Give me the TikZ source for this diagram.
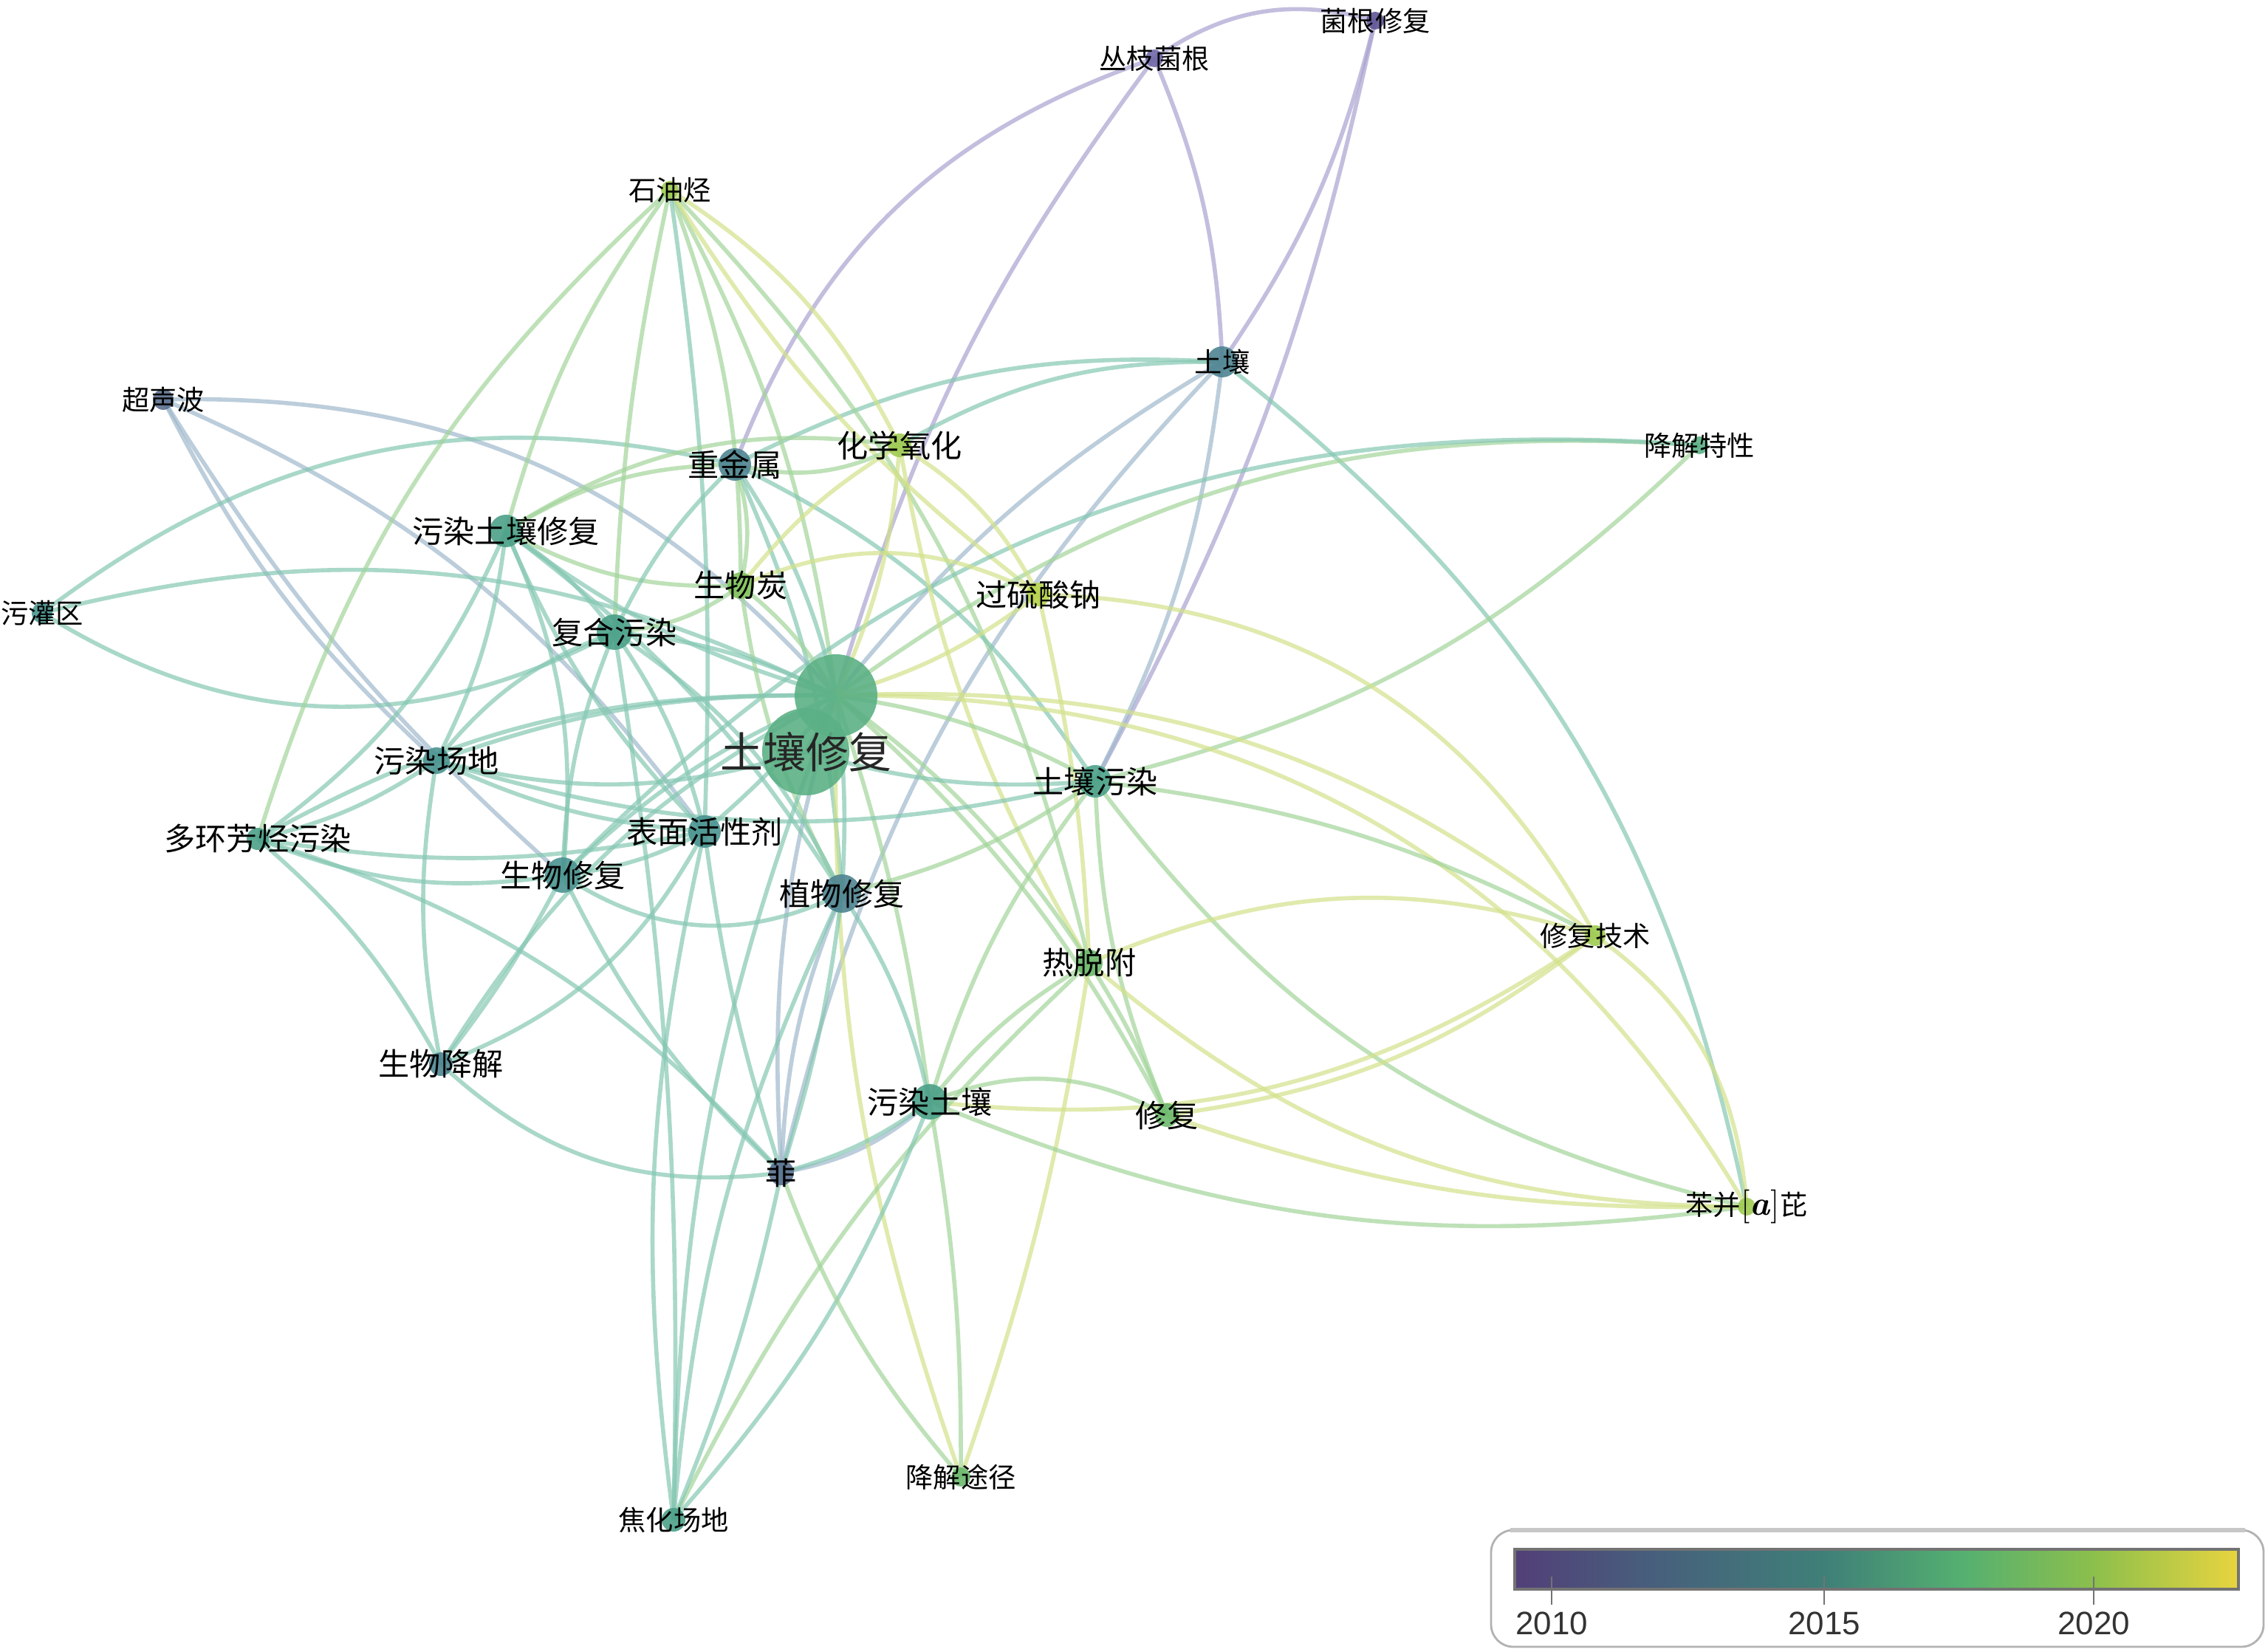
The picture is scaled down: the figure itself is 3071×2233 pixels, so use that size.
\documentclass[tikz,border=0pt]{standalone}
\usepackage{fontspec}
\newfontfamily\cjkfont{Noto Sans CJK SC}
\newfontfamily\legfont{Liberation Sans}
\usetikzlibrary{backgrounds}

% node colours (by year)
\definecolor{n10}{HTML}{5E5496}
\definecolor{n11}{HTML}{6F68A8}
\definecolor{n12}{HTML}{5A6F8E}
\definecolor{n13}{HTML}{4E8491}
\definecolor{n14}{HTML}{4A9390}
\definecolor{n15}{HTML}{4BA088}
\definecolor{n16}{HTML}{5BB085}
\definecolor{n17}{HTML}{6BB86C}
\definecolor{n18}{HTML}{83C25C}
\definecolor{n19}{HTML}{9ECB52}
\definecolor{n20}{HTML}{B5D24A}
% edge colours
\definecolor{ep}{HTML}{A9A3D0}
\definecolor{eb}{HTML}{9FB8CC}
\definecolor{et}{HTML}{85C7B2}
\definecolor{eg}{HTML}{A2D49A}
\definecolor{ey}{HTML}{D2E18A}
% legend bar
\definecolor{v0}{HTML}{523F78}
\definecolor{v1}{HTML}{475F7C}
\definecolor{v2}{HTML}{3F8078}
\definecolor{v3}{HTML}{55B070}
\definecolor{v4}{HTML}{8CBF4C}
\definecolor{v5}{HTML}{E8D440}
\pgfdeclarehorizontalshading{yearbar}{100bp}{color(0bp)=(v0); color(25bp)=(v0);
  color(34.5bp)=(v1); color(46.5bp)=(v2); color(56bp)=(v3); color(65bp)=(v4);
  color(75bp)=(v5); color(100bp)=(v5)}

\begin{document}
\begin{tikzpicture}[x=0.1mm, y=-0.1mm,
  dot/.style={circle, inner sep=0pt, fill opacity=0.9},
  lbl/.style={font=\cjkfont\fontsize{12pt}{14pt}\selectfont, text=black, inner sep=0pt, opacity=1},
  lbls/.style={font=\cjkfont\fontsize{10.6pt}{12pt}\selectfont, text=black, inner sep=0pt, opacity=1},
  lblb/.style={font=\cjkfont\fontsize{16.5pt}{18pt}\selectfont, text=black!85, inner sep=0pt, opacity=1},
  ln/.style={line width=1.6pt, opacity=0.7},
  lp/.style={ln, draw=ep}, lb/.style={ln, draw=eb}, lt/.style={ln, draw=et},
  lg/.style={ln, draw=eg}, ly/.style={ln, draw=ey},
  yr/.style={font=\legfont\fontsize{12.5pt}{14pt}\selectfont, text=black!80, inner sep=0pt}]
\useasboundingbox (0,0) rectangle (3071,2233);

% keywords
\node[dot, fill=n10, minimum size=2.4mm, label={[lbls]center:菌根修复}] (jgxf) at (1862,28) {};
\node[dot, fill=n11, minimum size=2.4mm, label={[lbls]center:丛枝菌根}] (czjg) at (1563,79) {};
\node[dot, fill=n19, minimum size=2.4mm, label={[lbls]center:石油烃}] (syt) at (907,257) {};
\node[dot, fill=n13, minimum size=4.2mm, label={[lbls]center:土壤}] (tr) at (1655,490) {};
\node[dot, fill=n16, minimum size=2.4mm, label={[lbls]center:降解特性}] (jjtx) at (2301,603) {};
\node[dot, fill=n12, minimum size=2.8mm, label={[lbls]center:超声波}] (csb) at (221,541) {};
\node[dot, fill=n13, minimum size=4.4mm, label={[lbl]center:重金属}] (zjs) at (995,629) {};
\node[dot, fill=n19, minimum size=3.2mm, label={[lbl]center:化学氧化}] (hxyh) at (1218,603) {};
\node[dot, fill=n15, minimum size=4.4mm, label={[lbl]center:污染土壤修复}] (wrtrxf) at (685,719) {};
\node[dot, fill=n18, minimum size=3.6mm, label={[lbl]center:生物炭}] (swt) at (1003,793) {};
\node[dot, fill=n20, minimum size=3.2mm, label={[lbl]center:过硫酸钠}] (glsn) at (1406,805) {};
\node[dot, fill=n14, minimum size=2.8mm, label={[lbls]center:污灌区}] (wgq) at (57,830) {};
\node[dot, fill=n15, minimum size=4.8mm, label={[lbl]center:复合污染}] (fhwr) at (832,856) {};
\node[dot, fill=n16, minimum size=11.8mm, label={[lblb]center:土壤修复}] (trxf) at (1091,1018) {};
\node[dot, fill=n16, minimum size=11.2mm] (hub) at (1132,942) {};
\node[dot, fill=n15, minimum size=4.4mm, label={[lbl]center:土壤污染}] (trwr) at (1483,1058) {};
\node[dot, fill=n14, minimum size=3.6mm, label={[lbl]center:污染场地}] (wrcd) at (591,1030) {};
\node[dot, fill=n15, minimum size=3.0mm, label={[lbl]center:多环芳烃污染}] (dhft) at (349,1136) {};
\node[dot, fill=n14, minimum size=4.4mm, label={[lbl]center:表面活性剂}] (bmhxj) at (954,1126) {};
\node[dot, fill=n14, minimum size=4.8mm, label={[lbl]center:生物修复}] (swxf) at (762,1185) {};
\node[dot, fill=n13, minimum size=5.2mm, label={[lbl]center:植物修复}] (zwxf) at (1140,1210) {};
\node[dot, fill=n19, minimum size=2.8mm, label={[lbls]center:修复技术}] (xfjs) at (2160,1267) {};
\node[dot, fill=n17, minimum size=3.6mm, label={[lbl]center:热脱附}] (ttf) at (1475,1304) {};
\node[dot, fill=n13, minimum size=3.2mm, label={[lbl]center:生物降解}] (swjj) at (597,1441) {};
\node[dot, fill=n15, minimum size=4.8mm, label={[lbl]center:污染土壤}] (wrtr) at (1259,1492) {};
\node[dot, fill=n17, minimum size=3.2mm, label={[lbl]center:修复}] (xf) at (1580,1510) {};
\node[dot, fill=n12, minimum size=3.4mm, label={[lbl]center:菲}] (fei) at (1058,1588) {};
\node[dot, fill=n19, minimum size=2.4mm, label={[lbls]center:{苯并{\rmfamily\fontsize{13pt}{14pt}\selectfont[\textbf{\textit{a}}]}芘}}] (bbp) at (2365,1634) {};
\node[dot, fill=n17, minimum size=2.6mm, label={[lbls]center:降解途径}] (jjtj) at (1301,2000) {};
\node[dot, fill=n15, minimum size=3.2mm, label={[lbls]center:焦化场地}] (jhcd) at (912,2058) {};

% co-occurrence links
\begin{scope}[on background layer]
\draw[lp] (jgxf.center) to[bend left=-25] (czjg.center);
\draw[lp] (jgxf.center) to[bend left=10] (tr.center);
\draw[lp] (jgxf.center) to[bend left=8] (trwr.center);
\draw[lp] (czjg.center) to[bend left=10] (tr.center);
\draw[lp] (czjg.center) to[bend left=-25] (zjs.center);
\draw[lp] (czjg.center) to[bend left=-10] (hub.center);
\draw[lb] (csb.center) to[bend left=25] (hub.center);
\draw[lb] (csb.center) to[bend left=-10] (wrcd.center);
\draw[lb] (csb.center) to[bend left=15] (bmhxj.center);
\draw[lb] (csb.center) to[bend left=-8] (swxf.center);
\draw[lb] (tr.center) to[bend left=-10] (hub.center);
\draw[lb] (tr.center) to[bend left=10] (trwr.center);
\draw[lb] (tr.center) to[bend left=-15] (fei.center);
\draw[lt] (tr.center) to[bend left=20] (bbp.center);
\draw[lt] (tr.center) to[bend left=-15] (zjs.center);
\draw[lt] (tr.center) to[bend left=-15] (hxyh.center);
\draw[lb] (fei.center) to[bend left=10] (hub.center);
\draw[lb] (fei.center) to[bend left=10] (zwxf.center);
\draw[lb] (fei.center) to[bend left=-15] (wrtr.center);
\draw[lt] (wgq.center) to[bend left=25] (zjs.center);
\draw[lt] (wgq.center) to[bend left=20] (hub.center);
\draw[lt] (wgq.center) to[bend left=-30] (fhwr.center);
\draw[lg] (syt.center) to[bend left=-10] (wrtrxf.center);
\draw[lg] (syt.center) to[bend left=-5] (fhwr.center);
\draw[lg] (syt.center) to[bend left=10] (swt.center);
\draw[lg] (syt.center) to[bend left=10] (hub.center);
\draw[lg] (syt.center) to[bend left=-15] (dhft.center);
\draw[lg] (syt.center) to[bend left=15] (ttf.center);
\draw[lt] (syt.center) to[bend left=5] (bmhxj.center);
\draw[ly] (syt.center) to[bend left=-10] (glsn.center);
\draw[ly] (syt.center) to[bend left=15] (hxyh.center);
\draw[lg] (jjtx.center) to[bend left=-20] (hub.center);
\draw[lg] (jjtx.center) to[bend left=15] (trwr.center);
\draw[lt] (jjtx.center) to[bend left=-25] (swxf.center);
\draw[lg] (wrtrxf.center) to[bend left=15] (zjs.center);
\draw[lt] (wrtrxf.center) to[bend left=10] (fhwr.center);
\draw[lg] (wrtrxf.center) to[bend left=-15] (swt.center);
\draw[lt] (wrtrxf.center) to[bend left=-10] (hub.center);
\draw[lt] (wrtrxf.center) to[bend left=15] (swxf.center);
\draw[lt] (wrtrxf.center) to[bend left=10] (zwxf.center);
\draw[lt] (wrtrxf.center) to[bend left=-10] (bmhxj.center);
\draw[lt] (wrtrxf.center) to[bend left=15] (dhft.center);
\draw[lt] (wrtrxf.center) to[bend left=10] (wrcd.center);
\draw[lg] (wrtrxf.center) to[bend left=20] (hxyh.center);
\draw[lt] (zjs.center) to[bend left=10] (hub.center);
\draw[lt] (zjs.center) to[bend left=-10] (fhwr.center);
\draw[lt] (zjs.center) to[bend left=10] (zwxf.center);
\draw[lg] (zjs.center) to[bend left=15] (swt.center);
\draw[lt] (zjs.center) to[bend left=15] (trwr.center);
\draw[lg] (zjs.center) to[bend left=-20] (hxyh.center);
\draw[ly] (hxyh.center) to[bend left=10] (hub.center);
\draw[ly] (hxyh.center) to[bend left=15] (glsn.center);
\draw[ly] (hxyh.center) to[bend left=-10] (ttf.center);
\draw[ly] (hxyh.center) to[bend left=-10] (swt.center);
\draw[lg] (swt.center) to[bend left=10] (hub.center);
\draw[ly] (swt.center) to[bend left=25] (glsn.center);
\draw[lg] (swt.center) to[bend left=15] (fhwr.center);
\draw[lg] (swt.center) to[bend left=-10] (zwxf.center);
\draw[ly] (glsn.center) to[bend left=10] (hub.center);
\draw[ly] (glsn.center) to[bend left=5] (ttf.center);
\draw[ly] (glsn.center) to[bend left=30] (xfjs.center);
\draw[lt] (fhwr.center) to[bend left=10] (hub.center);
\draw[lt] (fhwr.center) to[bend left=-10] (swxf.center);
\draw[lt] (fhwr.center) to[bend left=15] (zwxf.center);
\draw[lt] (fhwr.center) to[bend left=10] (bmhxj.center);
\draw[lt] (fhwr.center) to[bend left=5] (jhcd.center);
\draw[lt] (fhwr.center) to[bend left=-15] (wrcd.center);
\draw[lt] (hub.center) to (trxf.center);
\draw[lg] (hub.center) to[bend left=10] (trwr.center);
\draw[lt] (hub.center) to[bend left=-10] (wrcd.center);
\draw[lt] (hub.center) to[bend left=-15] (dhft.center);
\draw[lt] (hub.center) to[bend left=5] (bmhxj.center);
\draw[lt] (hub.center) to[bend left=-10] (swxf.center);
\draw[lt] (hub.center) to[bend left=5] (zwxf.center);
\draw[ly] (hub.center) to[bend left=20] (xfjs.center);
\draw[lg] (hub.center) to[bend left=10] (ttf.center);
\draw[lt] (hub.center) to[bend left=-15] (swjj.center);
\draw[lg] (hub.center) to[bend left=5] (wrtr.center);
\draw[lg] (hub.center) to[bend left=10] (xf.center);
\draw[ly] (hub.center) to[bend left=30] (bbp.center);
\draw[ly] (hub.center) to[bend left=-10] (jjtj.center);
\draw[lt] (hub.center) to[bend left=-10] (jhcd.center);
\draw[lt] (trxf.center) to[bend left=15] (wrcd.center);
\draw[lt] (trxf.center) to[bend left=-10] (trwr.center);
\draw[lg] (trwr.center) to[bend left=10] (xfjs.center);
\draw[lg] (trwr.center) to[bend left=-20] (bbp.center);
\draw[lg] (trwr.center) to[bend left=-10] (wrtr.center);
\draw[lg] (trwr.center) to[bend left=-10] (xf.center);
\draw[lg] (trwr.center) to[bend left=10] (zwxf.center);
\draw[lt] (wrcd.center) to[bend left=10] (dhft.center);
\draw[lt] (wrcd.center) to[bend left=-10] (swjj.center);
\draw[lt] (wrcd.center) to[bend left=-10] (bmhxj.center);
\draw[lt] (wrcd.center) to[bend left=-15] (trwr.center);
\draw[lt] (dhft.center) to[bend left=-15] (swxf.center);
\draw[lt] (dhft.center) to[bend left=10] (swjj.center);
\draw[lt] (dhft.center) to[bend left=-10] (bmhxj.center);
\draw[lt] (dhft.center) to[bend left=15] (fei.center);
\draw[lt] (bmhxj.center) to[bend left=10] (swxf.center);
\draw[lt] (bmhxj.center) to[bend left=20] (swjj.center);
\draw[lt] (bmhxj.center) to[bend left=-5] (fei.center);
\draw[lt] (bmhxj.center) to[bend left=-10] (jhcd.center);
\draw[lt] (swxf.center) to[bend left=-30] (zwxf.center);
\draw[lt] (swxf.center) to[bend left=5] (swjj.center);
\draw[lt] (swxf.center) to[bend left=-10] (fei.center);
\draw[lt] (zwxf.center) to[bend left=10] (wrtr.center);
\draw[lt] (zwxf.center) to[bend left=-10] (jhcd.center);
\draw[lt] (zwxf.center) to[bend left=5] (fei.center);
\draw[ly] (xfjs.center) to[bend left=-20] (ttf.center);
\draw[ly] (xfjs.center) to[bend left=20] (wrtr.center);
\draw[ly] (xfjs.center) to[bend left=15] (xf.center);
\draw[ly] (xfjs.center) to[bend left=25] (bbp.center);
\draw[lg] (ttf.center) to[bend left=-10] (wrtr.center);
\draw[lg] (ttf.center) to[bend left=5] (xf.center);
\draw[ly] (ttf.center) to[bend left=-20] (bbp.center);
\draw[lg] (ttf.center) to[bend left=-10] (jhcd.center);
\draw[ly] (ttf.center) to[bend left=5] (jjtj.center);
\draw[lt] (swjj.center) to[bend left=-25] (fei.center);
\draw[lg] (wrtr.center) to[bend left=25] (xf.center);
\draw[lt] (wrtr.center) to[bend left=10] (fei.center);
\draw[lg] (wrtr.center) to[bend left=-15] (bbp.center);
\draw[lg] (wrtr.center) to[bend left=5] (jjtj.center);
\draw[lt] (wrtr.center) to[bend left=10] (jhcd.center);
\draw[ly] (xf.center) to[bend left=-10] (bbp.center);
\draw[lg] (fei.center) to[bend left=-10] (jjtj.center);
\draw[lt] (fei.center) to[bend left=5] (jhcd.center);
\end{scope}

% year legend
\draw[black!30, line width=0.8pt, rounded corners=3mm] (2019,2072) rectangle (3065,2230);
\draw[black!22, line width=1.6pt] (2045,2072) -- (3040,2072);
\shade[shading=yearbar] (2051,2098) rectangle (3031,2152);
\draw[black!55, line width=1.2pt] (2051,2098) rectangle (3031,2152);
\draw[black!55, line width=0.8pt] (2101,2135) -- (2101,2173);
\draw[black!55, line width=0.8pt] (2470,2135) -- (2470,2173);
\draw[black!55, line width=0.8pt] (2835,2135) -- (2835,2173);
\node[yr] (y2010) at (2101,2198) {2010};
\node[yr] (y2015) at (2470,2198) {2015};
\node[yr] (y2020) at (2835,2198) {2020};
\end{tikzpicture}
\end{document}
